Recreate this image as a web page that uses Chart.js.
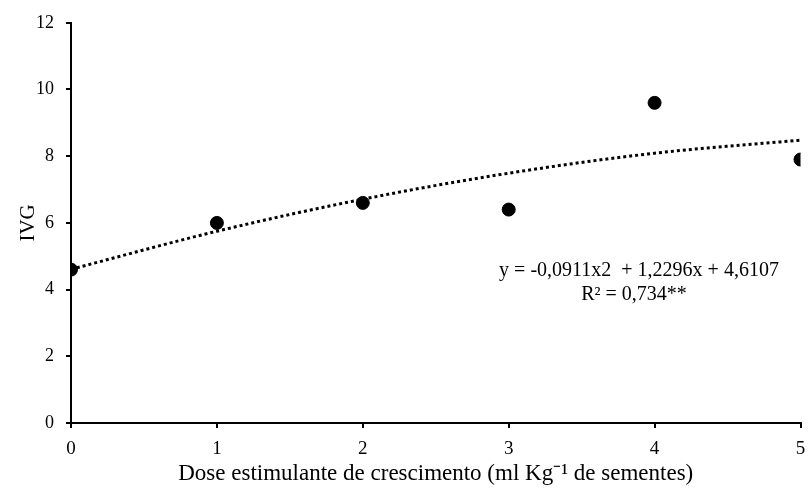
<!DOCTYPE html>
<html>
<head>
<meta charset="utf-8">
<script src="https://cdn.jsdelivr.net/npm/chart.js@4.4.3/dist/chart.umd.min.js"></script>
<style>
  html, body { margin: 0; padding: 0; background: #fff; }
  #wrap { width: 808px; height: 488px; position: relative; }
</style>
</head>
<body>
<div id="wrap"><canvas id="chart"></canvas></div>
<script>
// doses (ml/kg) and observed IVG
const doses = [0, 1, 2, 3, 4, 5];
const ivg = [4.6, 6.0, 6.6, 6.4, 9.6, 7.9];
// trend curve at each dose
const trend = [4.61, 5.75, 6.71, 7.49, 8.09, 8.48];
const yTicks = [0, 2, 4, 6, 8, 10, 12];
const equation = ['y = -0,0911x2  + 1,2296x + 4,6107', 'R\u00b2 = 0,734**'];

const serif = '"Liberation Serif", "Times New Roman", serif';

// draws the regression label inside the plot
const eqLabel = {
    id: 'eqLabel',
    afterDraw(chart) {
        const ctx = chart.ctx;
        ctx.save();
        ctx.font = '20px ' + serif;
        ctx.fillStyle = '#000';
        ctx.textAlign = 'center';
        ctx.textBaseline = 'middle';
        ctx.fillText(equation[0], 639, 271);
        ctx.fillText(equation[1], 634, 295);
        ctx.restore();
    }
};

new Chart(document.getElementById('chart'), {
    type: 'scatter',
    data: {
        datasets: [
            {
                type: 'line',
                label: 'trend',
                data: doses.map((d, i) => ({ x: d, y: trend[i] })),
                borderColor: '#000',
                borderWidth: 3,
                borderDash: [3, 3],
                borderCapStyle: 'butt',
                cubicInterpolationMode: 'monotone',
                pointRadius: 0,
                fill: false,
                order: 2
            },
            {
                label: 'IVG',
                data: doses.map((d, i) => ({ x: d, y: ivg[i] })),
                backgroundColor: '#000',
                borderColor: '#000',
                pointRadius: 6.5,
                order: 1
            }
        ]
    },
    options: {
        responsive: true,
        maintainAspectRatio: false,
        animation: false,
        layout: { padding: { top: 20, right: 4, left: 0, bottom: 0 } },
        plugins: { legend: { display: false }, tooltip: { enabled: false } },
        scales: {
            x: {
                type: 'linear',
                min: 0, max: 5,
                ticks: { stepSize: 1, color: '#000', font: { family: serif, size: 19 }, padding: 10, maxRotation: 0 },
                grid: { drawOnChartArea: false, color: '#000', tickLength: 5, lineWidth: 2 },
                border: { color: '#000', width: 2 },
                title: {
                    display: true,
                    text: 'Dose estimulante de crescimento (ml Kg\u207b\u00b9 de sementes)',
                    color: '#000',
                    font: { family: serif, size: 23 },
                    padding: { top: 0, bottom: 0 }
                },
                afterFit: s => { s.height = 65; s.paddingRight = 0; s.paddingLeft = 0; }
            },
            y: {
                min: 0, max: 12,
                afterBuildTicks: s => { s.ticks = yTicks.map(v => ({ value: v })); },
                ticks: { color: '#000', font: { family: serif, size: 18 }, padding: 12 },
                grid: { drawOnChartArea: false, color: '#000', tickLength: 5, lineWidth: 2 },
                border: { color: '#000', width: 2 },
                title: {
                    display: true,
                    text: 'IVG',
                    color: '#000',
                    font: { family: serif, size: 21 },
                    padding: { top: 16, bottom: 0 }
                },
                afterFit: s => { s.width = 71; }
            }
        }
    },
    plugins: [eqLabel]
});
</script>
</body>
</html>
